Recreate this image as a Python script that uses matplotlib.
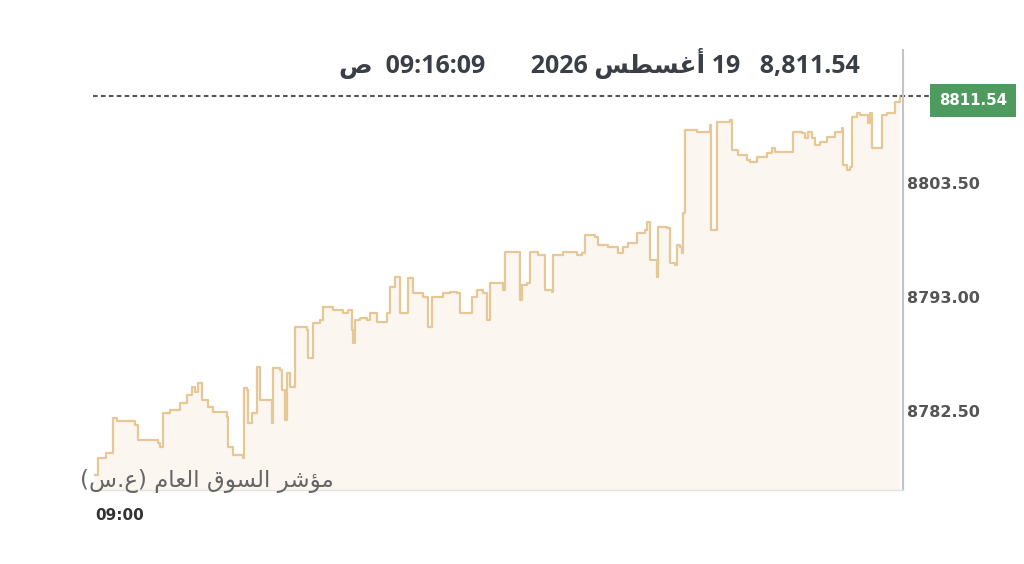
import numpy as np
import matplotlib.pyplot as plt
import matplotlib.transforms as mtransforms

# seconds after 09:00:00 and index level
secs = [0, 4, 8, 13, 19, 22, 26, 39, 48, 52, 76, 78, 82, 90, 102, 111, 117, 120, 124, 129,
        136, 142, 154, 159, 160, 166, 178, 179, 183, 184, 189, 195, 199, 206, 213, 214, 223, 225, 229, 231,
        235, 241, 250, 255, 256, 261, 262, 271, 274, 286, 299, 305, 309, 310, 313, 319, 327, 331, 339, 351,
        355, 361, 367, 373, 377, 383, 395, 401, 406, 419, 427, 436, 439, 448, 454, 460, 467, 472, 475, 491,
        494, 507, 512, 514, 520, 524, 533, 538, 542, 550, 551, 563, 574, 580, 586, 590, 602, 605, 618, 624,
        630, 636, 642, 652, 662, 664, 668, 676, 678, 688, 692, 698, 701, 704, 707, 708, 710, 725, 738, 740,
        742, 746, 749, 764, 767, 774, 785, 788, 797, 809, 815, 819, 839, 840, 851, 855, 858, 863, 867, 873,
        881, 891, 899, 900, 905, 909, 911, 917, 921, 930, 933, 935, 945, 947, 953, 961, 963, 969]
vals = [8776.61, 8778.18, 8778.18, 8778.64, 8778.64, 8781.86, 8781.58, 8781.58, 8781.22, 8779.84,
        8779.56, 8779.19, 8782.32, 8782.60, 8783.24, 8783.98, 8784.72, 8784.26, 8785.08, 8783.52,
        8782.87, 8782.41, 8782.41, 8781.95, 8779.19, 8778.45, 8778.18, 8784.62, 8784.44, 8781.40,
        8782.32, 8786.56, 8783.52, 8783.52, 8781.40, 8786.47, 8786.28, 8784.44, 8781.68, 8786.00,
        8784.72, 8790.24, 8790.24, 8789.96, 8787.39, 8787.39, 8790.61, 8790.88, 8792.08, 8791.80,
        8791.53, 8791.80, 8789.96, 8788.77, 8790.88, 8791.07, 8790.88, 8791.53, 8790.70, 8791.53,
        8793.92, 8794.84, 8791.53, 8791.53, 8794.75, 8793.37, 8793.00, 8790.24, 8793.00, 8793.37,
        8793.46, 8793.37, 8791.53, 8791.53, 8793.00, 8793.65, 8793.37, 8790.88, 8794.29, 8793.65,
        8797.15, 8797.15, 8792.73, 8794.11, 8794.29, 8797.15, 8796.87, 8796.87, 8793.65, 8793.46,
        8796.87, 8797.15, 8797.15, 8796.87, 8797.05, 8798.71, 8798.53, 8797.79, 8797.61, 8797.61,
        8797.05, 8797.61, 8797.98, 8798.90, 8799.17, 8799.91, 8796.41, 8794.84, 8799.45, 8799.36,
        8796.13, 8795.95, 8797.79, 8797.61, 8797.05, 8800.74, 8808.38, 8808.20, 8808.20, 8808.84,
        8799.17, 8799.17, 8809.12, 8809.30, 8806.54, 8806.08, 8805.62, 8805.43, 8805.89, 8806.26,
        8806.72, 8806.35, 8806.35, 8808.20, 8808.10, 8807.64, 8808.20, 8807.64, 8807.00, 8807.28,
        8807.74, 8808.20, 8808.56, 8805.16, 8804.70, 8804.97, 8809.58, 8809.95, 8809.76, 8809.02,
        8809.95, 8806.72, 8806.72, 8809.76, 8809.95, 8809.95, 8810.96, 8811.54]

yticks = [8782.50, 8793.00, 8803.50]
last = 8811.54
xtick_label = "09:00"

# arabic written in visual order with presentation forms (matplotlib has no shaping)
august = "\uFEB2\uFEC4\uFEB4\uFECF\uFE83"
title = "\uFEB9  09:16:09       2026 " + august + " 19   8,811.54"
index_name = ("(\uFEB1.\uFEC9) " + "\uFEE1\uFE8E\uFECC\uFEDF\uFE8D" + " "
              + "\uFED5\uFEEE\uFEB4\uFEDF\uFE8D" + " " + "\uFEAE\uFEB7\uFE86\uFEE3")

line_col = '#e5c896'
fill_col = '#fbf6f0'
text_col = '#555555'

fig = plt.figure(figsize=(10.24, 5.64), dpi=100)
ax = fig.add_axes([0.0908, 0.1312, 0.791, 0.780])

ax.fill_between(secs, vals, 8770, color=fill_col, lw=0, step='post')
ax.plot(secs, vals, color=line_col, lw=1.6, drawstyle='steps-post')

ax.set_xlim(-2.4, 972.6)
ax.set_ylim(8775.23, 8815.75)

for s in ['top', 'left']:
    ax.spines[s].set_visible(False)
ax.spines['right'].set_color('#c4c4c4')
ax.spines['right'].set_linewidth(1.5)
ax.spines['bottom'].set_color('#e2e2e2')
ax.spines['bottom'].set_linewidth(1.0)

ax.yaxis.tick_right()
ax.set_yticks(yticks)
ax.set_yticklabels(["%.2f" % v for v in yticks], fontsize=11.5, fontweight='bold',
                   color=text_col, family='DejaVu Sans')
ax.tick_params(axis='y', length=0, pad=3)
ax.set_xticks([0])
ax.set_xticklabels([xtick_label], fontsize=11, fontweight='bold', color='#333333',
                   family='DejaVu Sans', ha='left')
ax.tick_params(axis='x', length=0, pad=13)

# dotted last-price line running out to the tag
ax.axhline(last, xmin=0.0, xmax=1.033, color='#555555', lw=1.5,
           linestyle=(0, (2.2, 1.6)), clip_on=False)
trans = mtransforms.blended_transform_factory(fig.transFigure, ax.transData)
ax.text(0.9502, last - 0.42, "%.2f" % last, transform=trans, ha='center', va='center',
        fontsize=10.8, fontweight='bold', color='white', family='DejaVu Sans',
        bbox=dict(boxstyle='square,pad=0.62', facecolor='#4f9a5e', edgecolor='none'))

ax.text(80 / 1024, 8776.05, index_name, ha='left', va='center', fontsize=16.5,
        color='#666666', family=['DejaVu Sans'], transform=trans)

fig.text(860 / 1024, 1 - 64 / 564, title, ha='right', va='center', fontsize=18,
         fontweight='bold', color='#3a3f47', family=['Open Sans', 'DejaVu Sans'])

fig.savefig('out.png', dpi=100, facecolor='white')
